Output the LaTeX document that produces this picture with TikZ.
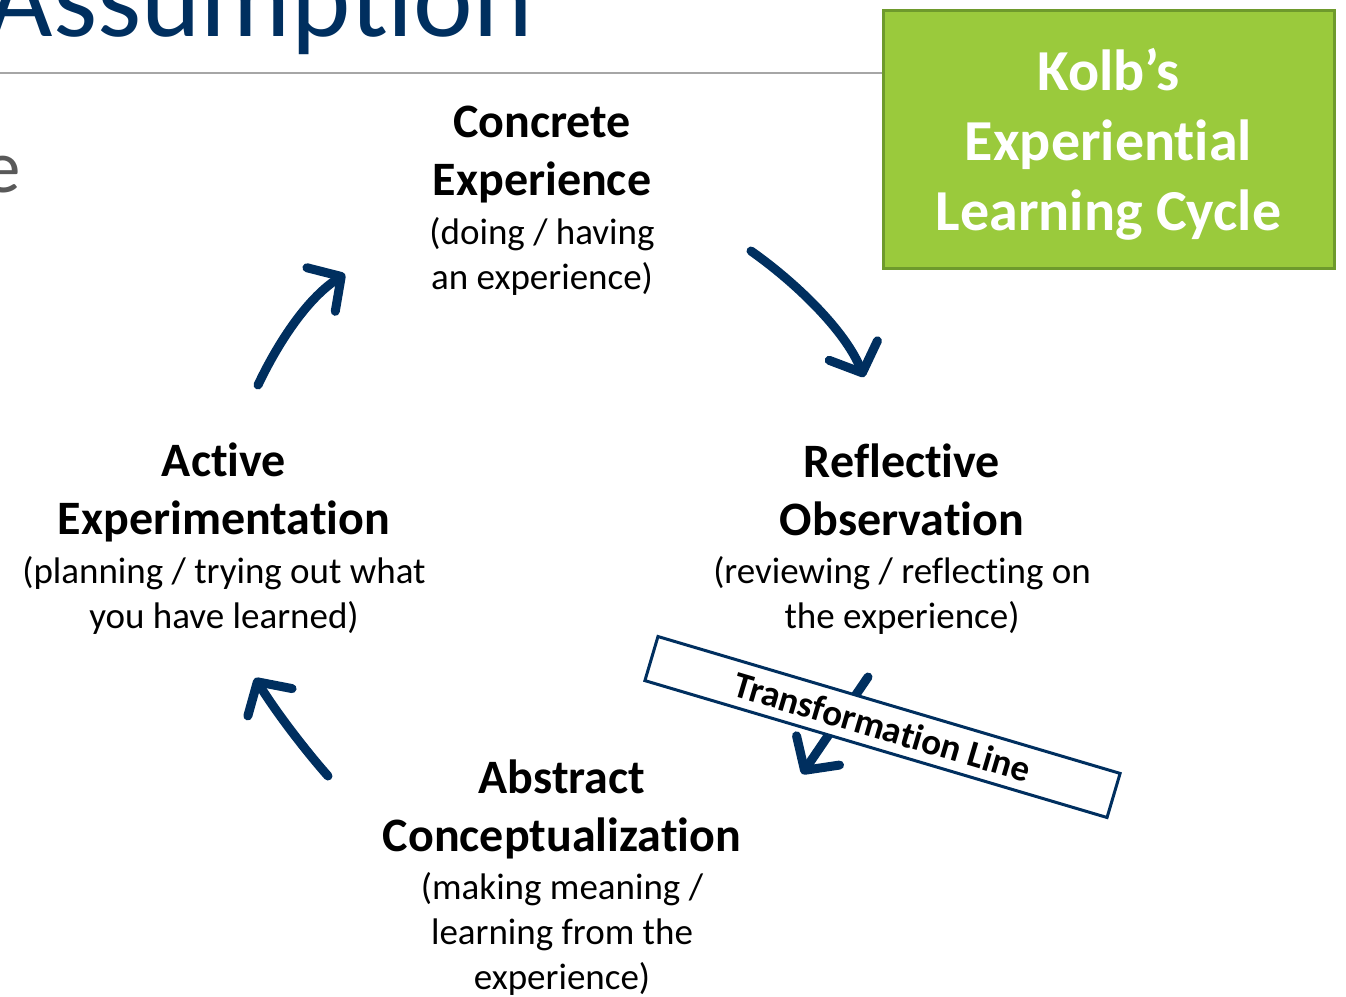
\documentclass[tikz,border=0pt]{standalone}
\usepackage{fontspec}
\setmainfont{Carlito}[Ligatures=NoCommon]
\usepackage{xcolor}
\usepackage{tikz}
\usetikzlibrary{arrows.meta,positioning}
\definecolor{navy}{HTML}{002F5F}
\definecolor{kolbfill}{HTML}{9ACA3C}
\definecolor{kolbline}{HTML}{6E9A2C}
\definecolor{rule}{HTML}{A6A6A6}
\definecolor{muted}{HTML}{595959}
\tikzset{
  head/.style={font=\fontsize{48}{58}\selectfont\bfseries, align=center, inner sep=0pt},
  sub/.style={font=\fontsize{37}{45}\selectfont, align=center, inner sep=0pt},
  cyc/.style={draw=navy, line width=9pt, line cap=round,
    -{Straight Barb[length=24pt 0, width=52pt 0, round]},
    preaction={draw=black!35, opacity=0.35, transform canvas={shift={(2,3)}}}},
  kolbbox/.style={draw=kolbline, fill=kolbfill, line width=3pt, text=white,
    font=\fontsize{58}{70}\selectfont\bfseries, align=center,
    minimum width=451pt, minimum height=258pt},
  tbox/.style={draw=navy, fill=white, line width=3pt, rotate=-16.5,
    font=\fontsize{37}{40}\selectfont\bfseries,
    minimum width=482pt, minimum height=46pt, inner sep=0pt}
}
\begin{document}
\begin{tikzpicture}[x=1pt, y=-1pt]
  \useasboundingbox (0,0) rectangle (1346,996);
  % slide title and rule
  \node[anchor=base east, text=navy, font=\fontsize{113}{120}\selectfont, inner sep=0pt]
    (title) at (533,36) {Assumption};
  \node[anchor=base east, text=muted, font=\fontsize{75}{80}\selectfont, inner sep=0pt]
    (cut) at (21,192) {e};
  \coordinate (ruleL) at (0,73);
  \coordinate (ruleR) at (884,73);
  \draw[rule, line width=1.5pt] (ruleL) -- (ruleR);
  \node[kolbbox] (kolb) at (1108.5,139)
    {\raisebox{-5pt}[\height][\depth]{\parbox{440pt}{\centering Kolb’s\\Experiential\\Learning Cycle}}};
  % the four stages
  \node[head, anchor=north] (ce) at (542,106) {Concrete\\Experience};
  \node[sub, below=14pt of ce] (ceS) {(doing / having\\an experience)};
  \node[head, anchor=north] (ro) at (902,444) {Reflective\\Observation};
  \node[sub, below=20pt of ro] (roS) {(reviewing / reflecting on\\the experience)};
  \node[head, anchor=north] (ac) at (562,760) {Abstract\\Conceptualization};
  \node[sub, below=13pt of ac] (acS) {(making meaning /\\learning from the\\experience)};
  \node[head, anchor=north] (ae) at (224,443) {Active\\Experimentation};
  \node[sub, below=14pt of ae] (aeS) {(planning / trying out what\\you have learned)};
  % cycle arrows
  \coordinate (a1s) at (751,251);
  \coordinate (a1e) at (864,377);
  \coordinate (a2s) at (328,776);
  \coordinate (a2e) at (255,678);
  \coordinate (a3s) at (258,385);
  \coordinate (a3e) at (345,274);
  \coordinate (a4s) at (868,677);
  \coordinate (a4e) at (802,774);
  \draw[cyc] (a1s) .. controls (795,282) and (845,330) .. (a1e);
  \draw[cyc] (a2s) .. controls (305,750) and (276,712) .. (a2e);
  \draw[cyc] (a3s) .. controls (276,347) and (305,300) .. (a3e);
  \draw[cyc] (a4s) -- (a4e);
  \node[tbox] (trans) at (882.5,727) {Transformation Line};
\end{tikzpicture}
\end{document}
